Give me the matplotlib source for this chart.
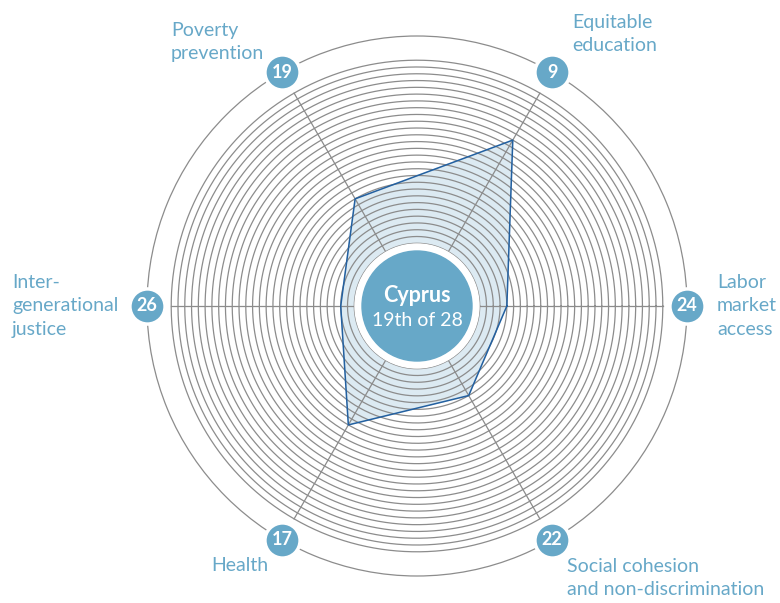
import numpy as np
import matplotlib.pyplot as plt
from matplotlib.patches import Circle

# data
categories = ["Labor\nmarket\naccess", "Equitable\neducation", "Poverty\nprevention",
              "Inter-\ngenerational\njustice", "Health", "Social cohesion\nand non-discrimination"]
ranks = [24, 9, 19, 26, 17, 22]
country = "Cyprus"
overall = "19th of 28"
n_countries = 28

blue = "#67a8c8"
fill_col = "#dceaf2"
edge_col = "#2360a0"
ring_col = "#8c8c8c"
font = ["Lato", "DejaVu Sans"]

# label placement (pixel offsets from the badge), alignment
label_off = [(30, 0), (20, 38), (-111, 30), (-135, 0), (-14, -26), (15, -38)]
label_ha = ["left", "left", "left", "left", "right", "left"]

fig = plt.figure(figsize=(7.8, 6.03), dpi=100)
ax = fig.add_axes([147 / 780, 27 / 603, 540 / 780, 540 / 603], projection="polar")
r_center = 37.25
r_outer = -2.57
ax.set_rlim(r_center, r_outer)
ax.set_xticks([])
ax.set_yticks([])
ax.grid(False)
ax.spines["polar"].set_color(ring_col)
ax.spines["polar"].set_linewidth(0.9)

angles = np.linspace(0, 2 * np.pi, len(ranks), endpoint=False)
theta = np.linspace(0, 2 * np.pi, 400)

# rings, one per rank
for k in range(1, n_countries + 1):
    ax.plot(theta, np.full_like(theta, k), color=ring_col, lw=0.9, zorder=2)

# spokes
for a in angles:
    ax.plot([a, a], [n_countries, 1], color=ring_col, lw=0.9, zorder=2)

# polygon
a_closed = np.append(angles, angles[0])
r_closed = ranks + ranks[:1]
ax.fill(a_closed, r_closed, color=fill_col, zorder=1)
ax.plot(a_closed, r_closed, color=edge_col, lw=1.1, zorder=3)

# center disk
ax.add_patch(Circle((0.5, 0.5), 62 / 540, transform=ax.transAxes, color="white", zorder=4))
ax.add_patch(Circle((0.5, 0.5), 55 / 540, transform=ax.transAxes, color=blue, zorder=5))
ax.annotate(country, xy=(0.5, 0.5), xycoords="axes fraction", xytext=(0, 10),
            textcoords="offset pixels", ha="center", va="center", color="white",
            fontsize=15.5, fontweight="bold", family=font, zorder=6)
ax.annotate(overall, xy=(0.5, 0.5), xycoords="axes fraction", xytext=(0, -15),
            textcoords="offset pixels", ha="center", va="center", color="white",
            fontsize=14, family=font, zorder=6)

# badges and labels
ax.scatter(angles, np.full(len(angles), r_outer), s=640, color=blue,
           edgecolors="white", linewidths=2.5, zorder=10, clip_on=False)
for a, rk, lab, off, ha in zip(angles, ranks, categories, label_off, label_ha):
    ax.text(a, r_outer, str(rk), ha="center", va="center", color="white",
            fontsize=13, fontweight="bold", family=font, zorder=11, clip_on=False)
    ax.annotate(lab, xy=(a, r_outer), xytext=off, textcoords="offset pixels",
                ha=ha, va="center", color=blue, fontsize=14, family=font,
                linespacing=1.45, annotation_clip=False)

fig.savefig("out.png", dpi=100)
